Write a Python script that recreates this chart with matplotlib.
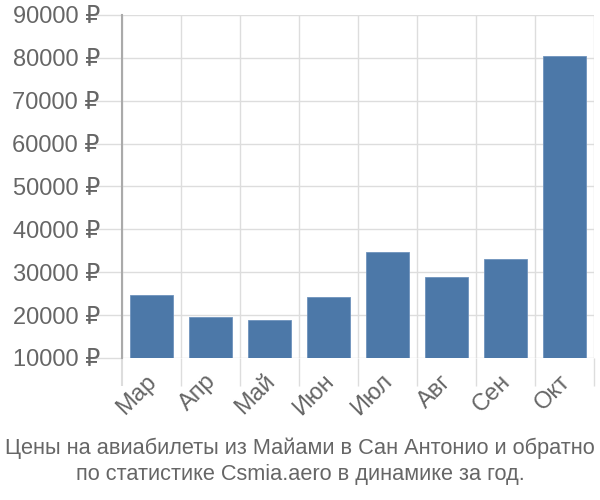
import numpy as np
import matplotlib
matplotlib.use("Agg")
import matplotlib.pyplot as plt
from matplotlib.transforms import ScaledTranslation

# ── data ──────────────────────────────────────────────────────────────
months = ["Мар", "Апр", "Май", "Июн", "Июл", "Авг", "Сен", "Окт"]
prices = [24700, 19600, 18900, 24200, 34700, 28900, 33100, 80400]
y_ticks = [10000, 20000, 30000, 40000, 50000, 60000, 70000, 80000, 90000]
base = 10000
title = ("Цены на авиабилеты из Майами в Сан Антонио и обратно\n"
         "по статистике Csmia.aero в динамике за год.")

BAR_COLOR = "#4c78a8"
TEXT_COLOR = "#666666"
GRID_COLOR = "#dddddd"
AXIS_COLOR = "#aaaaaa"

plt.rcParams["font.family"] = ["Liberation Sans", "DejaVu Sans"]

fig = plt.figure(figsize=(6, 5), dpi=100)
ax = fig.add_axes([0.2033, 0.284, 0.7867, 0.686])

x = np.arange(len(months))
heights = [p - base for p in prices]
ax.bar(x, heights, bottom=base, width=0.72, color=BAR_COLOR,
       edgecolor="#6f93bd", linewidth=0.6, zorder=3)

ax.set_xlim(-0.5, len(months) - 0.5)
ax.set_ylim(y_ticks[0], y_ticks[-1])

# y axis
ax.set_yticks(y_ticks)
ax.set_yticklabels([f"{v} ₽" for v in y_ticks])
ax.tick_params(axis="y", length=22, width=1, color=GRID_COLOR,
               labelsize=17, labelcolor=TEXT_COLOR, pad=-6)
ax.yaxis.grid(True, color=GRID_COLOR, linewidth=1, zorder=0)

# x axis: labels at centres, gridlines at category boundaries
ax.set_xticks(x)
ax.set_xticklabels(months, rotation=45, ha="right", rotation_mode="anchor")
ax.tick_params(axis="x", which="major", length=0, labelsize=17,
               labelcolor=TEXT_COLOR, pad=9)
shift = ScaledTranslation(-0.06, 0, fig.dpi_scale_trans)
for lbl in ax.get_xticklabels():
    lbl.set_transform(lbl.get_transform() + shift)
ax.set_xticks(np.arange(len(months) + 1) - 0.5, minor=True)
ax.tick_params(axis="x", which="minor", length=20, width=1, color=GRID_COLOR)
ax.xaxis.grid(True, which="minor", color=GRID_COLOR, linewidth=1, zorder=0)
first = ax.xaxis.get_minor_ticks()[0]
first.tick1line.set_color(AXIS_COLOR)
first.tick1line.set_markeredgewidth(1.5)

for side in ["top", "right", "bottom"]:
    ax.spines[side].set_visible(False)
ax.spines["left"].set_color(AXIS_COLOR)
ax.spines["left"].set_linewidth(1.5)
ax.spines["left"].set_zorder(4)

fig.text(0.5, 0.077, title, ha="center", va="center", fontsize=15.7,
         color=TEXT_COLOR, linespacing=1.3)

fig.savefig("out.png", dpi=100)
